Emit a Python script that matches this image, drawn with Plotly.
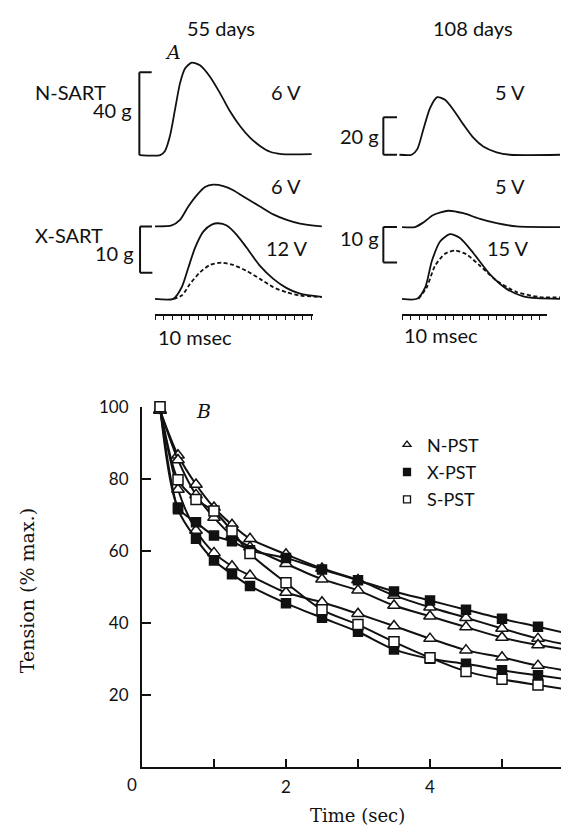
import plotly.graph_objects as go

W, H = 561, 828

# ---------------- Panel B data (tension % max vs time, sec) ----------------
t_sec = [0.25, 0.5, 0.75, 1.0, 1.25, 1.5, 2.0, 2.5, 3.0, 3.5, 4.0, 4.5, 5.0, 5.5, 6.0]
n_pst_a = [99, 86.5, 78.4, 72.0, 67.2, 63.3, 59.0, 55.1, 51.9, 47.6, 44.3, 41.4, 38.4, 35.6, 33.5]
n_pst_b = [99, 85.2, 75.5, 69.2, 64.2, 61.0, 56.4, 52.1, 49.0, 44.8, 41.8, 38.8, 35.9, 33.8, 32.3]
n_pst_c = [99, 77.0, 65.6, 59.4, 55.7, 53.1, 48.4, 45.7, 42.5, 39.1, 35.6, 32.4, 30.4, 28.1, 26.4]
x_pst_a = [100, 72.0, 67.9, 64.2, 62.6, 60.1, 58.0, 54.8, 51.8, 48.7, 46.2, 43.6, 41.1, 38.9, 36.6]
x_pst_b = [100, 71.5, 63.3, 57.3, 53.5, 50.2, 45.4, 41.4, 37.5, 32.6, 30.0, 28.6, 26.8, 25.4, 24.0]
s_pst_a = [100, 79.7, 74.2, 71.0, 65.5, 59.2, 51.1, 43.6, 39.5, 34.7, 30.3, 26.5, 24.3, 22.7, 21.2]

y_ticks_b = [20, 40, 60, 80, 100]
x_ticks_b = [1, 2, 3, 4, 5]
x_ticktext_b = ["", "2", "", "4", ""]

# ---------------- Panel A data (twitch tension, g vs time, msec) ----------------
n55_t = [-1.8, 0.6, 1.15, 1.72, 2.3, 2.87, 3.45, 4.22, 5.17, 6.32, 7.47, 8.62, 9.77, 10.92, 12.07, 13.22, 14.56, 18.0]
n55_g = [0, 0, 2.0, 9.2, 21.9, 34.6, 41.8, 44.6, 43.3, 37.8, 29.9, 21.1, 14.0, 8.4, 4.4, 1.6, 0.5, 0.5]

x55_6v_t = [0, 1.92, 2.87, 3.83, 4.79, 5.75, 6.7, 7.85, 9.0, 10.54, 12.07, 13.6, 15.14, 16.67, 19.17]
x55_6v_g = [0, 0.2, 1.4, 4.3, 6.7, 8.5, 9.0, 8.7, 7.8, 6.0, 4.3, 2.6, 1.4, 0.6, 0]

x55_12v_t = [0, 2.11, 3.07, 3.83, 4.6, 5.55, 6.52, 7.28, 8.24, 9.39, 10.54, 12.07, 13.6, 15.14, 16.67, 19.17]
x55_12v_g = [0, 0, 2.5, 6.7, 11.0, 14.5, 16.0, 16.3, 15.8, 13.8, 11.0, 7.1, 4.3, 2.3, 1.1, 0.4]
x55_12v_dash_t = [2.11, 3.07, 4.02, 5.17, 6.32, 7.66, 9.0, 10.54, 12.07, 13.6, 15.14, 16.67, 19.17]
x55_12v_dash_g = [0, 0.7, 3.2, 5.7, 7.3, 7.8, 7.3, 6.0, 4.3, 2.5, 1.4, 0.7, 0.4]

n108_t = [-0.3, 1.13, 1.78, 2.48, 3.26, 4.1, 5.0, 5.97, 7.13, 8.29, 9.45, 11.0, 12.56, 18.37]
n108_g = [0, 0, 3.0, 13.5, 24.9, 30.7, 29.3, 24.0, 16.2, 9.1, 4.4, 1.3, 0, 0]

x108_5v_t = [0, 1.51, 2.48, 3.64, 5.38, 7.13, 9.07, 11.0, 13.34, 18.37]
x108_5v_g = [0, 0, 1.3, 3.4, 4.6, 3.9, 2.3, 1.1, 0.2, 0]

x108_15v_t = [0, 1.74, 2.71, 3.48, 4.45, 5.58, 6.74, 8.29, 10.23, 12.17, 14.1, 15.66, 18.37]
x108_15v_g = [0, 0, 3.3, 10.7, 16.2, 18.2, 17.1, 12.9, 6.9, 2.8, 0.7, 0.2, 0]
x108_15v_dash_t = [1.9, 2.87, 3.84, 5.0, 6.16, 7.52, 9.07, 11.0, 13.34, 16.05, 18.37]
x108_15v_dash_g = [0, 3.2, 9.3, 12.7, 13.6, 12.5, 9.3, 5.1, 1.9, 0.5, 0.4]

scale_n55_g = 40
scale_x55_g = 10
scale_n108_g = 20
scale_x108_g = 10
timescale_55_ms = 18.16
timescale_108_ms = 16.86

# ---------------- helpers ----------------
def xdom(p0, p1):
    return [p0 / W, p1 / W]

def ydom(ptop, pbot):
    return [1 - pbot / H, 1 - ptop / H]

def xrange_ms(p0, p1, origin, ppm):
    return [(p0 - origin) / ppm, (p1 - origin) / ppm]

def yrange_g(ptop, pbot, base, ppg):
    return [-(pbot - base) / ppg, (base - ptop) / ppg]

BLACK = "#111111"
SANS = "Lato, 'Open Sans', sans-serif"
SERIF = "'DejaVu Serif', 'Liberation Serif', serif"

fig = go.Figure()

# ---------------- Panel B traces ----------------
series = [
    (n_pst_a, "triangle-up", "white", 11),
    (n_pst_b, "triangle-up", "white", 11),
    (n_pst_c, "triangle-up", "white", 11),
    (x_pst_a, "square", BLACK, 9),
    (x_pst_b, "square", BLACK, 9),
    (s_pst_a, "square", "white", 10),
]
for ys, sym, fill, sz in series:
    fig.add_trace(go.Scatter(
        x=t_sec, y=ys, mode="lines+markers", xaxis="x", yaxis="y",
        line=dict(color=BLACK, width=2, shape="spline", smoothing=0.8),
        marker=dict(symbol=sym, color=fill, size=sz, line=dict(color=BLACK, width=1.5)),
        showlegend=False, cliponaxis=False, hoverinfo="skip"))

for name, sym, fill in [("N-PST", "triangle-up", "white"), ("X-PST", "square", BLACK), ("S-PST", "square", "white")]:
    fig.add_trace(go.Scatter(
        x=[None], y=[None], mode="markers", name=name, legendgroup=name,
        marker=dict(symbol=sym, color=fill, size=7, line=dict(color=BLACK, width=1.3)),
        xaxis="x", yaxis="y"))

# ---------------- Panel A traces ----------------
def wave(t, g, ax, dash="solid"):
    fig.add_trace(go.Scatter(
        x=t, y=g, mode="lines", xaxis="x" + ax, yaxis="y" + ax,
        line=dict(color=BLACK, width=1.8, shape="spline", smoothing=0.7, dash=dash),
        showlegend=False, hoverinfo="skip"))

wave(n55_t, n55_g, "2")
wave(x55_6v_t, x55_6v_g, "3")
wave(x55_12v_t, x55_12v_g, "4")
wave(x55_12v_dash_t, x55_12v_dash_g, "4", dash="4px,2.5px")
wave(n108_t, n108_g, "5")
wave(x108_5v_t, x108_5v_g, "6")
wave(x108_15v_t, x108_15v_g, "7")
wave(x108_15v_dash_t, x108_15v_dash_g, "7", dash="4px,2.5px")

# time-scale axes carry one invisible point each
fig.add_trace(go.Scatter(x=[0], y=[0], mode="markers", marker=dict(opacity=0), xaxis="x8", yaxis="y8", showlegend=False, hoverinfo="skip"))
fig.add_trace(go.Scatter(x=[0], y=[0], mode="markers", marker=dict(opacity=0), xaxis="x9", yaxis="y9", showlegend=False, hoverinfo="skip"))

# ---------------- layout ----------------
hid = dict(visible=False, fixedrange=True, showgrid=False, zeroline=False)

O55, PPM55 = 155, 8.7
O108, PPM108 = 402, 8.6

layout = dict(
    width=W, height=H, margin=dict(l=0, r=0, t=0, b=0),
    paper_bgcolor="white", plot_bgcolor="rgba(0,0,0,0)",
    font=dict(family=SANS, color=BLACK, size=17),
    showlegend=True,
    legend=dict(x=387 / W, y=1 - 421 / H, xanchor="left", yanchor="top",
                font=dict(family=SANS, size=18, color=BLACK),
                bgcolor="rgba(0,0,0,0)", tracegroupgap=1, itemwidth=30),
    xaxis=dict(domain=xdom(142, 561), range=[0, (561 - 142) / 72], anchor="y",
               showline=True, linecolor=BLACK, linewidth=2, ticks="inside", ticklen=8,
               tickwidth=2, tickcolor=BLACK, tickvals=x_ticks_b, ticktext=x_ticktext_b,
               showgrid=False, zeroline=False, tickfont=dict(size=17, family=SANS),
               ticklabelstandoff=4, fixedrange=True),
    yaxis=dict(domain=ydom(401, 766), range=[0, 100], anchor="x",
               showline=True, linecolor=BLACK, linewidth=2, ticks="inside", ticklen=9,
               tickwidth=2, tickcolor=BLACK, tickvals=y_ticks_b,
               showgrid=False, zeroline=False, tickfont=dict(size=17, family=SANS),
               ticklabelstandoff=8, fixedrange=True),
    xaxis2=dict(domain=xdom(128, 330), range=xrange_ms(128, 330, O55, PPM55), anchor="y2", **hid),
    yaxis2=dict(domain=ydom(40, 152), range=yrange_g(40, 152, 146, 2.1), anchor="x2", **hid),
    xaxis3=dict(domain=xdom(128, 330), range=xrange_ms(128, 330, O55, PPM55), anchor="y3", **hid),
    yaxis3=dict(domain=ydom(165, 275), range=yrange_g(165, 275, 218.3, 4.7), anchor="x3", **hid),
    xaxis4=dict(domain=xdom(128, 330), range=xrange_ms(128, 330, O55, PPM55), anchor="y4", **hid),
    yaxis4=dict(domain=ydom(205, 297), range=yrange_g(205, 297, 291.7, 4.7), anchor="x4", **hid),
    xaxis5=dict(domain=xdom(375, 561), range=xrange_ms(375, 561, O108, PPM108), anchor="y5", **hid),
    yaxis5=dict(domain=ydom(70, 152), range=yrange_g(70, 152, 145.7, 1.9), anchor="x5", **hid),
    xaxis6=dict(domain=xdom(375, 561), range=xrange_ms(375, 561, O108, PPM108), anchor="y6", **hid),
    yaxis6=dict(domain=ydom(190, 262), range=yrange_g(190, 262, 219, 3.6), anchor="x6", **hid),
    xaxis7=dict(domain=xdom(375, 561), range=xrange_ms(375, 561, O108, PPM108), anchor="y7", **hid),
    yaxis7=dict(domain=ydom(215, 297), range=yrange_g(215, 297, 291.7, 3.6), anchor="x7", **hid),
    xaxis8=dict(domain=xdom(O55, O55 + timescale_55_ms * PPM55), range=[0, timescale_55_ms], anchor="y8",
                showline=True, linecolor=BLACK, linewidth=1.6, ticks="outside", ticklen=4,
                tickwidth=1.2, tickcolor=BLACK, dtick=1, tick0=0, showticklabels=False,
                showgrid=False, zeroline=False, fixedrange=True),
    yaxis8=dict(domain=ydom(297, 307), range=[0, 1], anchor="x8", **hid),
    xaxis9=dict(domain=xdom(O108, O108 + timescale_108_ms * PPM108), range=[0, timescale_108_ms], anchor="y9",
                showline=True, linecolor=BLACK, linewidth=1.6, ticks="outside", ticklen=4,
                tickwidth=1.2, tickcolor=BLACK, dtick=1, tick0=0, showticklabels=False,
                showgrid=False, zeroline=False, fixedrange=True),
    yaxis9=dict(domain=ydom(297, 307), range=[0, 1], anchor="x9", **hid),
)
fig.update_layout(**layout)

# ---------------- scale brackets (in axis units) ----------------
def seg(ax, x0, y0, x1, y1, w=2):
    fig.add_shape(type="line", xref="x" + ax, yref="y" + ax, x0=x0, y0=y0, x1=x1, y1=y1,
                  line=dict(color=BLACK, width=w))

# N-SART 55 d: 40 g
seg("2", -1.8, 0, -1.8, scale_n55_g)
seg("2", -1.8, scale_n55_g, -0.38, scale_n55_g)
# X-SART 55 d: 10 g
seg("3", -1.72, 0, -1.72, -scale_x55_g)
seg("3", -1.72, 0, -0.35, 0)
seg("3", -1.72, -scale_x55_g, -0.3, -scale_x55_g)
# N-SART 108 d: 20 g
seg("5", -2.17, 0, -2.17, scale_n108_g)
seg("5", -2.17, scale_n108_g, -0.58, scale_n108_g)
seg("5", -2.17, 0, -0.58, 0)
# X-SART 108 d: 10 g
seg("6", -2.17, 0, -2.17, -scale_x108_g)
seg("6", -2.17, 0, -0.58, 0)
seg("6", -2.17, -scale_x108_g, -0.58, -scale_x108_g)

# ---------------- text ----------------
def txt(s, x, y, xa="center", size=20, fam=SANS, angle=0, italic=False):
    fig.add_annotation(text=("<i>%s</i>" % s) if italic else s, x=x / W, y=1 - y / H,
                       xref="paper", yref="paper", xanchor=xa, yanchor="middle",
                       showarrow=False, textangle=angle,
                       font=dict(family=fam, size=size, color=BLACK))

txt("55 days", 221, 17)
txt("108 days", 473, 17)
txt("A", 173, 42, size=19, fam=SERIF, italic=True)
txt("N-SART", 33, 82, xa="left")
txt("40 g", 134, 100, xa="right")
txt("6 V", 286, 82)
txt("6 V", 286, 177)
txt("X-SART", 33, 227, xa="left")
txt("10 g", 136, 245, xa="right")
txt("12 V", 287, 240)
txt("10 msec", 156, 330, xa="left")
txt("5 V", 510, 82)
txt("20 g", 381, 127, xa="right")
txt("5 V", 510, 177)
txt("10 g", 381, 230, xa="right")
txt("15 V", 508, 240)
txt("10 msec", 402, 328, xa="left")

txt("B", 203, 405, size=19, fam=SERIF, italic=True)
txt("0", 132, 784, size=17)
txt("Time (sec)", 357, 815, size=18, fam=SERIF)
txt("Tension (% max.)", 27, 588, size=19, fam=SERIF, angle=-90)

fig.write_html("out.html")
